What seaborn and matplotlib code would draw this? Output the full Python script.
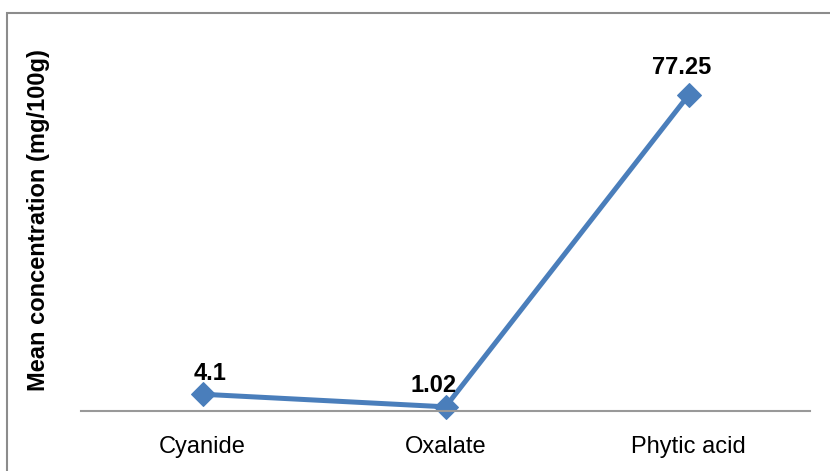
import matplotlib
matplotlib.use("Agg")
import matplotlib.pyplot as plt
from matplotlib.patches import Rectangle
import pandas as pd
import seaborn as sns

categories = ["Cyanide", "Oxalate", "Phytic acid"]
values = [4.1, 1.02, 77.25]
labels = ["4.1", "1.02", "77.25"]
# small label nudges in pixels (x, y)
nudges = [(8, 9), (-12, 10), (-7, 16)]

sns.set_style("white")
plt.rcParams["font.family"] = ["Liberation Sans", "DejaVu Sans"]

W, H = 830, 471
fig = plt.figure(figsize=(W / 100, H / 100), dpi=100)
ax = fig.add_axes([81 / W, (H - 411) / H, (810 - 81) / W, (411 - 30) / H])

df = pd.DataFrame({"cat": categories, "val": values})
sns.lineplot(data=df, x="cat", y="val", sort=False, color="#4A7EBB",
             linewidth=3.6, marker="D", markersize=12, markeredgecolor="#4A7EBB",
             ax=ax, clip_on=False)

for i, (v, lab) in enumerate(zip(values, labels)):
    dx, dy = nudges[i]
    ax.annotate(lab, (i, v), xytext=(dx * 0.72, dy * 0.72), textcoords="offset points",
                ha="center", va="bottom", fontsize=17, fontweight="bold", color="black")

ax.set_xlim(-0.5, 2.5)
ax.set_ylim(0, 93.2)
ax.set_yticks([])
ax.set_xlabel("")
ax.set_ylabel("Mean concentration (mg/100g)", fontsize=17, fontweight="bold",
              labelpad=22, color="black")
ax.tick_params(axis="x", length=0, labelsize=17, pad=18, labelcolor="black")
for s in ["top", "right", "left"]:
    ax.spines[s].set_visible(False)
ax.spines["bottom"].set_color("#999999")
ax.spines["bottom"].set_linewidth(1.5)

fig.patches.append(Rectangle((7 / W, -0.1), 1.2, (H - 13) / H + 0.1,
                             transform=fig.transFigure, fill=False,
                             edgecolor="#8c8c8c", linewidth=1.5))

fig.savefig("out.png", dpi=100)
